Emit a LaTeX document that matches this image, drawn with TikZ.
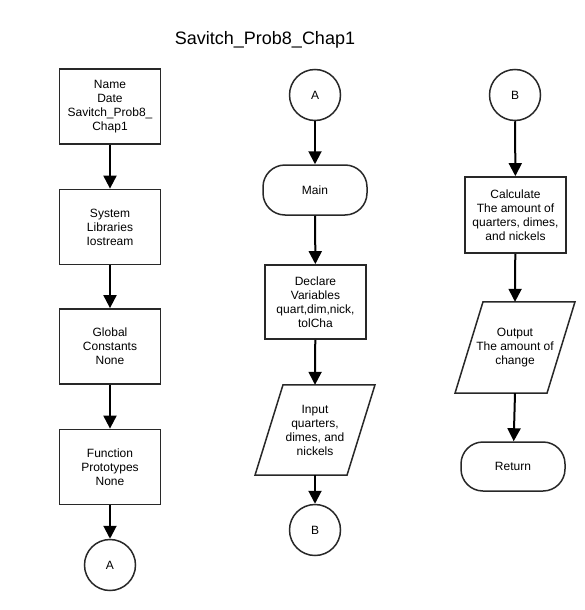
\documentclass[tikz,border=0pt]{standalone}
\usepackage{fontspec}
\setmainfont{Liberation Sans}
\usetikzlibrary{arrows.meta,calc}
\definecolor{bordc}{HTML}{282828}
\tikzset{
  txt/.style={font=\fontsize{12}{14}\selectfont, align=center, inner sep=0pt, text=black},
  procbox/.style={txt, draw=bordc, line width=1.8pt, minimum width=101pt, minimum height=75pt},
  termbox/.style={txt, draw=bordc, line width=1.5pt, rounded corners=22pt, minimum width=104pt, minimum height=50pt},
  conn/.style={txt, draw=bordc, line width=1.5pt, circle, minimum size=51pt},
  iobox/.style={txt, minimum width=92pt, minimum height=90pt},
  ioshape/.style={draw=bordc, line width=1.5pt, line join=miter},
  flow/.style={line width=2pt, black, -{Triangle[width=13pt,length=13pt]}},
}
\begin{document}
\begin{tikzpicture}[x=1pt,y=-1pt]
\useasboundingbox (0,0) rectangle (585,610);
\fill[white] (0,0) rectangle (585,610);
\node[font=\fontsize{18}{22}\selectfont, inner sep=0pt] (title) at (265,40) {Savitch\_Prob8\_Chap1};
% left column
\node[procbox] (l1) at (110,106.5) {Name\\Date\\Savitch\_Prob8\_\\Chap1};
\node[procbox] (l2) at (110,227) {System\\Libraries\\Iostream};
\node[procbox] (l3) at (110,346.5) {Global\\Constants\\None};
\node[procbox] (l4) at (110,467) {Function\\Prototypes\\None};
\node[conn] (la) at (110,565) {A};
\draw[flow] (l1) -- (l2);
\draw[flow] (l2) -- (l3);
\draw[flow] (l3) -- (l4);
\draw[flow] (l4) -- (la);
% middle column
\node[conn] (ma) at (315,95) {A};
\node[termbox] (main) at (315,190) {Main};
\node[procbox, minimum height=74pt] (decl) at (315.5,302) {Declare\\Variables\\quart,dim,nick,\\tolCha};
\node[iobox] (input) at (315,430) {Input\\quarters,\\dimes, and\\nickels};
\draw[ioshape] ($(input.north)+(-32,0)$) -- ($(input.north)+(60,0)$) -- ($(input.south)+(32,0)$) -- ($(input.south)+(-60,0)$) -- cycle;
\node[conn] (mb) at (315,530) {B};
\draw[flow] (ma) -- (main);
\draw[flow] (main) -- (decl);
\draw[flow] (decl) -- (input.north);
\draw[flow] (input.south) -- (mb);
% right column
\node[conn] (rb) at (515,95) {B};
\node[procbox, minimum height=76pt] (calc) at (515.5,215) {Calculate\\The amount of\\quarters, dimes,\\and nickels};
\node[iobox, minimum height=91pt] (output) at (515,347.5) {Output\\The amount of\\change};
\draw[ioshape] ($(output.north)+(-32,0)$) -- ($(output.north)+(60,0)$) -- ($(output.south)+(32,0)$) -- ($(output.south)+(-60,0)$) -- cycle;
\node[termbox, minimum height=49pt] (ret) at (513,466.5) {Return};
\draw[flow] (rb) -- (calc);
\draw[flow] (calc) -- (output.north);
\draw[flow] (output.south) -- (ret);
\end{tikzpicture}
\end{document}
